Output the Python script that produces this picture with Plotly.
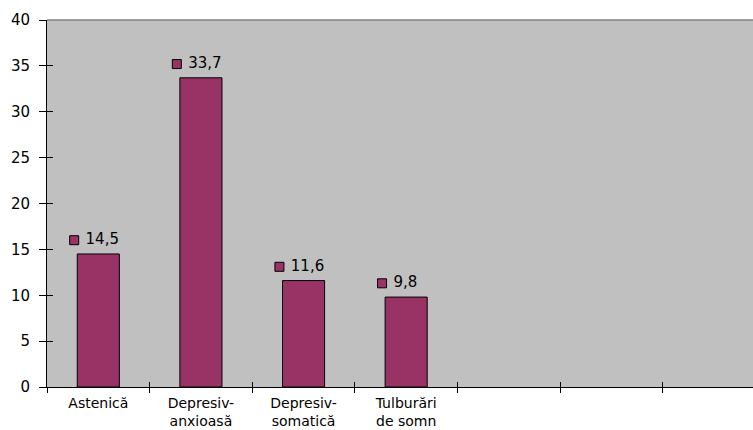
import plotly.graph_objects as go

# Data
categories = ["Astenică", "Depresiv-<br>anxioasă", "Depresiv-<br>somatică", "Tulburări<br>de somn"]
values = [14.5, 33.7, 11.6, 9.8]
n_slots = 7  # category slots on the axis (last ones empty)
y_ticks = [0, 5, 10, 15, 20, 25, 30, 35, 40]

BAR_COLOR = "#993366"
FONT = "DejaVu Sans, Arial, sans-serif"
FS = 15
FS_X = 14

positions = list(range(len(categories)))
labels = [" " + f"{v:.1f}".replace(".", ",") for v in values]

x_range = [-0.5, 6.38]
boundaries = [i + 0.5 for i in range(-1, n_slots)]

fig = go.Figure()

fig.add_trace(go.Bar(
    x=positions, y=values,
    width=0.41,
    marker=dict(color=BAR_COLOR, line=dict(color="black", width=1)),
    hoverinfo="skip",
))

# Data labels with a small legend key in front of the value
fig.add_trace(go.Scatter(
    x=[p - 0.235 for p in positions],
    y=[v + 1.5 for v in values],
    mode="markers+text",
    text=labels,
    textposition="middle right",
    textfont=dict(family=FONT, size=FS, color="black"),
    marker=dict(symbol="square", size=9, color=BAR_COLOR,
                line=dict(color="black", width=1)),
    cliponaxis=False,
    hoverinfo="skip",
))

common_x = dict(range=x_range, showgrid=False, zeroline=False, fixedrange=True, automargin=False)
common_y = dict(range=[0, 40], showgrid=False, zeroline=False, fixedrange=True, automargin=False)

fig.update_layout(
    width=753, height=430,
    margin=dict(l=47, r=0, t=20, b=43),
    paper_bgcolor="white",
    plot_bgcolor="#C0C0C0",
    showlegend=False,
    font=dict(family=FONT, size=FS, color="black"),
    xaxis=dict(**common_x, tickmode="array", tickvals=positions, ticktext=categories,
               ticks="", showline=True, linecolor="black", linewidth=1,
               tickfont=dict(family=FONT, size=FS_X, color="black"),
               ticklabelstandoff=3),
    xaxis2=dict(**common_x, overlaying="x", anchor="y", side="bottom",
                tickmode="array", tickvals=boundaries, ticks="outside",
                ticklen=5, tickcolor="black", showticklabels=False, showline=False),
    xaxis3=dict(**common_x, overlaying="x", anchor="y", side="bottom",
                tickmode="array", tickvals=boundaries, ticks="inside",
                ticklen=5, tickcolor="black", showticklabels=False, showline=False),
    yaxis=dict(**common_y, tickmode="array", tickvals=y_ticks,
               ticks="outside", ticklen=7, tickcolor="black",
               showline=True, linecolor="black", linewidth=1,
               tickfont=dict(family=FONT, size=FS, color="black"),
               ticklabelstandoff=6),
    yaxis2=dict(**common_y, overlaying="y", anchor="x", side="left",
                tickmode="array", tickvals=y_ticks, ticks="inside",
                ticklen=6, tickcolor="black", showticklabels=False, showline=False),
)

# Dummy traces so the overlay axes are drawn
fig.add_trace(go.Scatter(x=[None], y=[None], xaxis="x2", yaxis="y", showlegend=False, hoverinfo="skip"))
fig.add_trace(go.Scatter(x=[None], y=[None], xaxis="x3", yaxis="y", showlegend=False, hoverinfo="skip"))
fig.add_trace(go.Scatter(x=[None], y=[None], xaxis="x", yaxis="y2", showlegend=False, hoverinfo="skip"))

# Gray frame along the top of the plot area
fig.add_shape(type="line", xref="x domain", yref="y domain", x0=0, x1=1, y0=1, y1=1,
              line=dict(color="#808080", width=1.5), layer="above")

fig.write_html("out.html")
